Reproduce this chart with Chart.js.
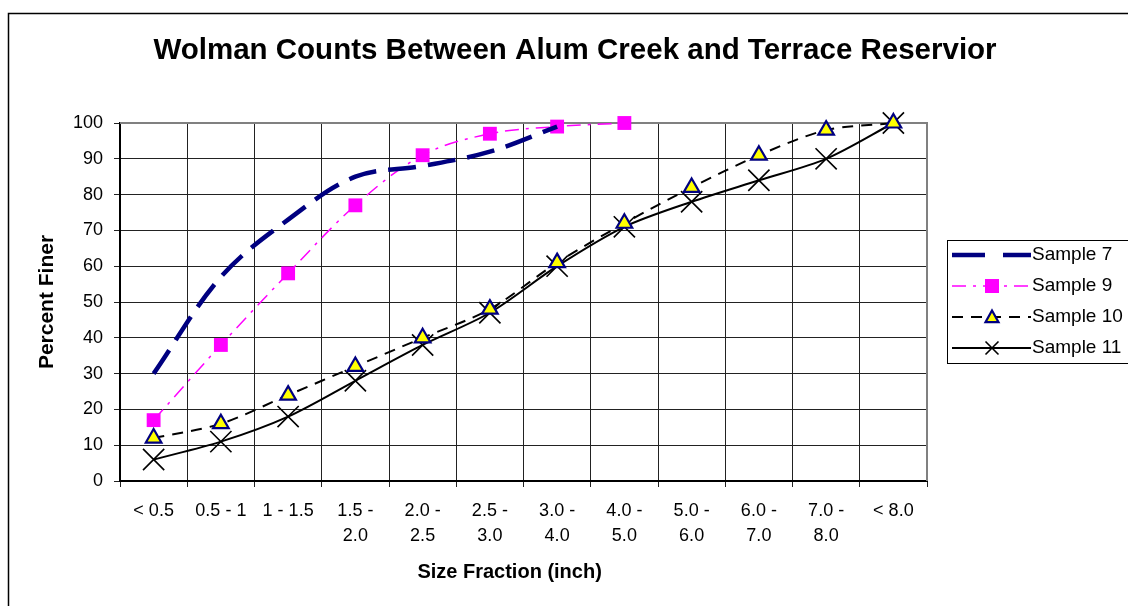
<!DOCTYPE html>
<html>
<head>
<meta charset="utf-8">
<title>Wolman Counts</title>
<script src="https://cdn.jsdelivr.net/npm/chart.js@4/dist/chart.umd.min.js"></script>
<style>
    html, body { margin: 0; padding: 0; background: #fff; overflow: hidden; }
    #wrap { position: relative; width: 1128px; height: 606px; }
</style>
</head>
<body>
<div id="wrap"><canvas id="wolmanChart" width="1128" height="606"></canvas></div>
<script>
// 粒径分组 (x 轴)
const sizeClasses = [
    '< 0.5', '0.5 - 1', '1 - 1.5',
    ['1.5 -', '2.0'], ['2.0 -', '2.5'], ['2.5 -', '3.0'], ['3.0 -', '4.0'],
    ['4.0 -', '5.0'], ['5.0 -', '6.0'], ['6.0 -', '7.0'], ['7.0 -', '8.0'],
    '< 8.0'
];

// 各样本累计百分比
const sample7 = [30, 57, 73, 85, 88, 92, 99, null, null, null, null, null];
const sample9 = [17, 38, 58, 77, 91, 97, 99, 100, null, null, null, null];
const sample10 = [12, 16, 24, 32, 40, 48, 61, 72, 82, 91, 98, 100];
const sample11 = [6, 11, 18, 28, 38, 47, 60, 71, 78, 84, 90, 100];

// y 轴刻度
const yMin = 0;
const yMax = 100;
const yStep = 10;

const chartTitle = 'Wolman Counts Between Alum Creek and Terrace Reservior';

const FONT = "'Liberation Sans', Arial, sans-serif";
Chart.defaults.font.family = FONT;
Chart.defaults.color = '#000';

// 图例里的小标记
function drawMarker(ctx, style, x, y, r, fill, stroke, lw) {
    ctx.save();
    ctx.lineWidth = lw;
    ctx.fillStyle = fill;
    ctx.strokeStyle = stroke;
    ctx.setLineDash([]);
    ctx.beginPath();
    if (style === 'rect') {
        ctx.rect(x - r, y - r, 2 * r, 2 * r);
        ctx.fill();
    } else if (style === 'triangle') {
        ctx.moveTo(x, y - r);
        ctx.lineTo(x + r, y + r * 0.8);
        ctx.lineTo(x - r, y + r * 0.8);
        ctx.closePath();
        ctx.fill();
        ctx.stroke();
    } else if (style === 'crossRot') {
        ctx.moveTo(x - r, y - r); ctx.lineTo(x + r, y + r);
        ctx.moveTo(x + r, y - r); ctx.lineTo(x - r, y + r);
        ctx.stroke();
    }
    ctx.restore();
}

const framePlugin = {
    id: 'frame',
    beforeDatasetsDraw(chart) {
        const { ctx, chartArea: a } = chart;
        ctx.save();
        ctx.strokeStyle = '#808080';
        ctx.lineWidth = 2;
        ctx.beginPath();
        ctx.moveTo(a.left, a.top);
        ctx.lineTo(a.right, a.top);
        ctx.lineTo(a.right, a.bottom);
        ctx.stroke();
        ctx.restore();
    },
    afterDraw(chart) {
        const ctx = chart.ctx;
        ctx.save();
        // 外框
        ctx.strokeStyle = '#000';
        ctx.lineWidth = 1.5;
        ctx.strokeRect(8.5, 13.5, 1400, 800);

        // 标题 (居中于整个画布)
        ctx.fillStyle = '#000';
        ctx.font = 'bold 29.5px ' + FONT;
        ctx.textAlign = 'center';
        ctx.textBaseline = 'middle';
        ctx.fillText(chartTitle, 575, 51);

        // 图例
        const lx = 947, ly = 240;
        ctx.lineWidth = 1;
        ctx.strokeRect(lx + 0.5, ly + 0.5, 300, 123);
        ctx.font = '19px ' + FONT;
        ctx.textBaseline = 'middle';
        ctx.textAlign = 'left';
        chart.data.datasets.forEach((ds, i) => {
            const y = ly + 15 + i * 31;
            ctx.save();
            ctx.strokeStyle = ds.borderColor;
            ctx.lineWidth = ds.borderWidth;
            ctx.setLineDash(ds.legendDash || ds.borderDash || []);
            ctx.beginPath();
            ctx.moveTo(952, y);
            ctx.lineTo(1031, y);
            ctx.stroke();
            ctx.restore();
            if (ds.pointRadius > 0) {
                drawMarker(ctx, ds.pointStyle, 992, y, ds.pointStyle === 'rect' ? 7 : 6.5,
                    ds.pointBackgroundColor, ds.pointBorderColor, ds.pointBorderWidth);
            }
            ctx.fillStyle = '#000';
            ctx.fillText(ds.label, 1032, y);
        });
        ctx.restore();
    }
};

const ctx = document.getElementById('wolmanChart').getContext('2d');
new Chart(ctx, {
    type: 'line',
    data: {
        labels: sizeClasses,
        datasets: [
            {
                label: 'Sample 7',
                data: sample7,
                borderColor: '#000080',
                borderWidth: 4.5,
                borderDash: [28, 12],
                legendDash: [33, 18],
                pointRadius: 0,
                tension: 0.35,
                clip: false
            },
            {
                label: 'Sample 9',
                data: sample9,
                borderColor: '#FF00FF',
                borderWidth: 1.5,
                borderDash: [14, 7, 3, 7],
                pointStyle: 'rect',
                pointRadius: 9.8,
                pointBackgroundColor: '#FF00FF',
                pointBorderColor: '#FF00FF',
                pointBorderWidth: 0,
                tension: 0.35,
                clip: false
            },
            {
                label: 'Sample 10',
                data: sample10,
                borderColor: '#000',
                borderWidth: 2,
                borderDash: [11, 8],
                pointStyle: 'triangle',
                pointRadius: 9,
                pointBackgroundColor: '#FFFF00',
                pointBorderColor: '#000080',
                pointBorderWidth: 2.2,
                tension: 0.3,
                clip: false
            },
            {
                label: 'Sample 11',
                data: sample11,
                borderColor: '#000',
                borderWidth: 2,
                pointStyle: 'crossRot',
                pointRadius: 15,
                pointBackgroundColor: '#000',
                pointBorderColor: '#000',
                pointBorderWidth: 1.6,
                tension: 0.3,
                clip: false
            }
        ]
    },
    options: {
        responsive: false,
        animation: false,
        layout: { padding: { left: 0, right: 201, top: 123, bottom: 0 } },
        plugins: {
            legend: { display: false },
            tooltip: { enabled: false },
            title: { display: false }
        },
        scales: {
            x: {
                offset: true,
                grid: { offset: true, color: '#222', lineWidth: 1, tickLength: 6 },
                border: { color: '#000', width: 2 },
                ticks: {
                    color: '#000',
                    font: { size: 18, lineHeight: 1.38 },
                    padding: 12,
                    maxRotation: 0,
                    autoSkip: false
                },
                title: {
                    display: true,
                    text: 'Size Fraction (inch)     ',
                    color: '#000',
                    font: { size: 20, weight: 'bold' },
                    padding: { top: 0, bottom: 22 }
                },
                afterFit(scale) { scale.height = 125; }
            },
            y: {
                min: yMin,
                max: yMax,
                grid: { color: '#222', lineWidth: 1, tickLength: 6 },
                border: { color: '#000', width: 2 },
                ticks: {
                    stepSize: yStep,
                    color: '#000',
                    font: { size: 18 },
                    padding: 11
                },
                title: {
                    display: true,
                    text: 'Percent Finer',
                    color: '#000',
                    font: { size: 21, weight: 'bold' },
                    padding: 35
                },
                afterFit(scale) { scale.width = 120; }
            }
        }
    },
    plugins: [framePlugin]
});
</script>
</body>
</html>
